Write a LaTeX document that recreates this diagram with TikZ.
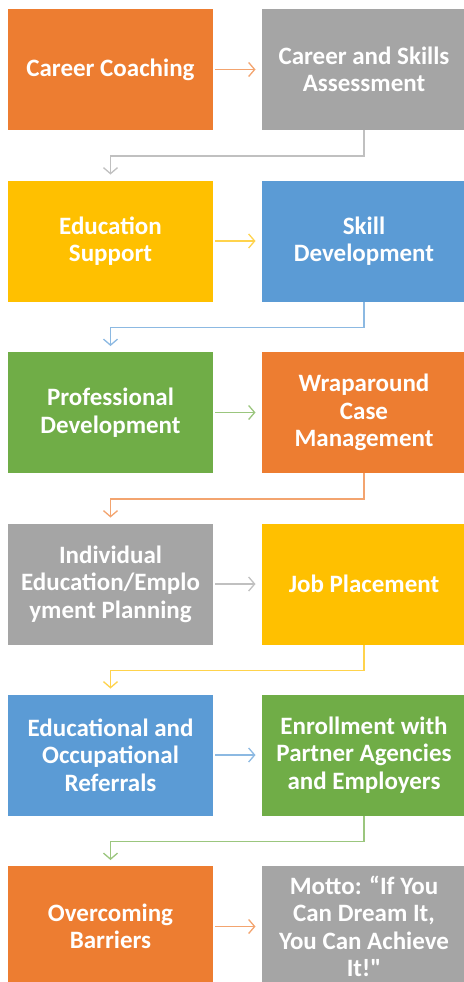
\documentclass[tikz,border=0pt]{standalone}
\usepackage{fontspec}
\setmainfont{Carlito}
\usetikzlibrary{arrows.meta}

\definecolor{corange}{HTML}{ED7D31}
\definecolor{cgray}{HTML}{A5A5A5}
\definecolor{cyellow}{HTML}{FFC000}
\definecolor{cblue}{HTML}{5B9BD5}
\definecolor{cgreen}{HTML}{70AD47}

\begin{document}
\begin{tikzpicture}[x=1pt, y=-1pt,
    box/.style={rectangle, minimum width=205pt, minimum height=121pt, inner sep=0pt,
      outer sep=0pt, text=white, align=center,
      font=\fontsize{25}{27.5}\selectfont\bfseries},
    flow/.style={line width=1.3pt, -{Straight Barb[length=6pt, width=14pt]},
      shorten <=2pt, shorten >=6pt}]
    \useasboundingbox (0,0) rectangle (463,982);

    % left column
    \node[box, fill=corange] (coaching)   at (110.5,69.5)  {Career Coaching};
    \node[box, fill=cyellow] (education)  at (110.5,241)   {Education\\Support};
    \node[box, fill=cgreen]  (profdev)    at (110.5,412.5) {Professional\\Development};
    \node[box, fill=cgray]   (planning)   at (110.5,584)   {Individual\\Education/Emplo\\yment Planning};
    \node[box, fill=cblue]   (referrals)  at (110.5,755)   {Educational and\\Occupational\\Referrals};
    \node[box, fill=corange] (barriers)   at (110.5,926.5) {Overcoming\\Barriers};

    % right column
    \node[box, fill=cgray]   (assessment) at (364,69.5)  {Career and Skills\\Assessment};
    \node[box, fill=cblue]   (skills)     at (364,241)   {Skill\\Development};
    \node[box, fill=corange] (wraparound) at (364,412.5) {Wraparound\\Case\\Management};
    \node[box, fill=cyellow] (placement)  at (364,584)   {Job Placement};
    \node[box, fill=cgreen]  (enrollment) at (364,755)   {Enrollment with\\Partner Agencies\\and Employers};
    \node[box, fill=cgray]   (motto)      at (364,926.5) {Motto: “If You\\Can Dream It,\\You Can Achieve\\It!\textquotedbl};

    % across
    \draw[flow, corange!70] (coaching) -- (assessment);
    \draw[flow, cyellow!70] (education) -- (skills);
    \draw[flow, cgreen!70] (profdev) -- (wraparound);
    \draw[flow, cgray!70] (planning) -- (placement);
    \draw[flow, cblue!70] (referrals) -- (enrollment);
    \draw[flow, corange!70] (barriers) -- (motto);

    % down to next row
    \draw[flow, cgray!70, shorten <=0pt] (assessment.south) -- ++(0,26) -| (education.north);
    \draw[flow, cblue!70, shorten <=0pt] (skills.south) -- ++(0,26) -| (profdev.north);
    \draw[flow, corange!70, shorten <=0pt] (wraparound.south) -- ++(0,26) -| (planning.north);
    \draw[flow, cyellow!70, shorten <=0pt] (placement.south) -- ++(0,26) -| (referrals.north);
    \draw[flow, cgreen!70, shorten <=0pt] (enrollment.south) -- ++(0,26) -| (barriers.north);
  \end{tikzpicture}
\end{document}
